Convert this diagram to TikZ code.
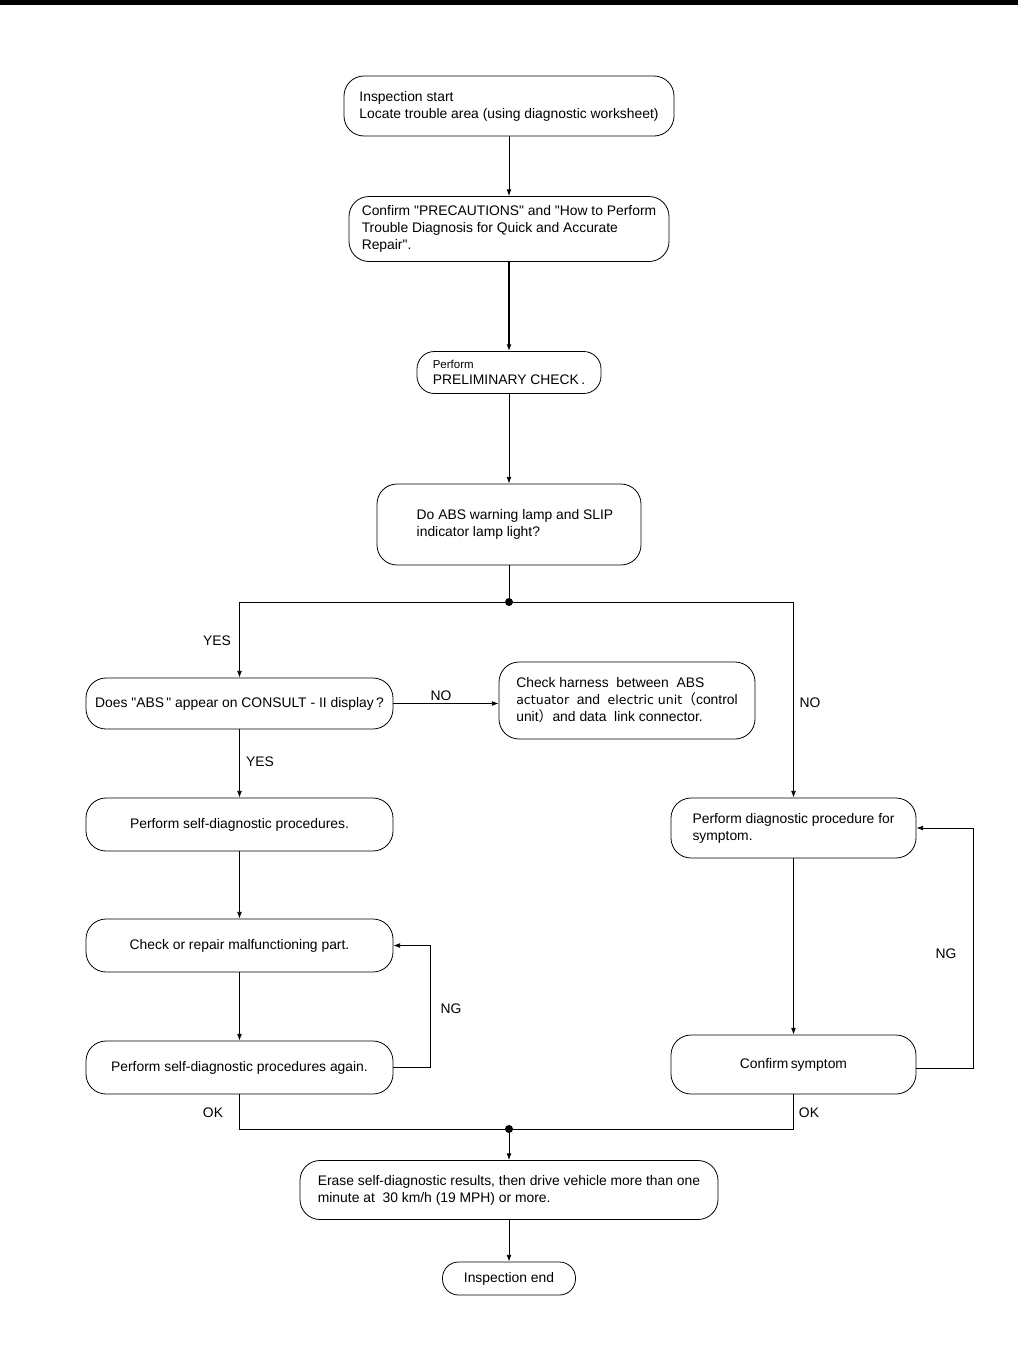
\documentclass[tikz,border=0pt]{standalone}
\usepackage{fontspec}
\setmainfont{Liberation Sans}[Ligatures=TeXOff]
\newfontfamily\cjkfont{Noto Sans CJK JP}
\newfontfamily\altfont{DejaVu Sans}
\usetikzlibrary{arrows.meta}
\newcommand\fs{\fontsize{10.4}{12.75}\selectfont}
\newcommand\qq{\symbol{34}}
\tikzset{
  box/.style={draw, line width=0.6pt, rounded corners=15pt, align=left, inner sep=0pt, font=\fs},
  conn/.style={line width=0.6pt},
  arr/.style={conn, -{Latex[length=5pt,width=3.6pt]}},
  lbl/.style={font=\fs, inner sep=0pt},
  dotmark/.style={circle, fill=black, inner sep=0pt, minimum size=6pt}
}
\begin{document}
\begin{tikzpicture}[x=0.75pt, y=-0.75pt]
\useasboundingbox (0,0) rectangle (1018,1360);
\fill (0,0) rectangle (1018,4.5);

% main column
\node[box, minimum width=247.5pt, minimum height=45pt] (start) at (509,106)
  {Inspection start\\Locate trouble area (using diagnostic worksheet)};
\node[box, minimum width=240pt, minimum height=48.75pt] (prec) at (509,229)
  {Confirm \qq PRECAUTIONS\qq{} and \qq How to Perform\\Trouble Diagnosis for Quick and Accurate\\Repair\qq.};
\node[box, minimum width=138pt, minimum height=31.5pt, rounded corners=13pt] (prelim) at (509,372.5)
  {{\fontsize{8.6}{9}\selectfont Perform}\\[-0.5pt]PRELIMINARY CHECK\,.};
\node[box, minimum width=198pt, minimum height=60.75pt] (lamp) at (509,524.5)
  {\hspace*{9pt}Do ABS warning lamp and SLIP\\\hspace*{9pt}indicator lamp light?};
\node[dotmark] (d1) at (509,602) {};

% left column
\node[box, minimum width=230.25pt, minimum height=38.25pt] (abs) at (239.5,703.5)
  {Does \qq ABS\,\qq{} appear on CONSULT - II display\,?};
\node[box, minimum width=192pt, minimum height=57.75pt] (harn) at (627,700.5)
  {Check harness \ between \ ABS\\{\altfont\fontsize{9.4}{12.75}\selectfont actuator} \ and \ {\altfont\fontsize{9.4}{12.75}\selectfont electric unit}{\cjkfont（}control\\unit{\cjkfont）}and data \ link connector.};
\node[box, minimum width=230.25pt, minimum height=39.75pt] (self) at (239.5,824.5)
  {Perform self-diagnostic procedures.};
\node[box, minimum width=230.25pt, minimum height=39.75pt] (rep) at (239.5,945.5)
  {Check or repair malfunctioning part.};
\node[box, minimum width=230.25pt, minimum height=39.75pt] (again) at (239.5,1067.5)
  {Perform self-diagnostic procedures again.};

% right column
\node[box, minimum width=183.75pt, minimum height=45pt] (diag) at (793.5,828)
  {Perform diagnostic procedure for\\symptom.};
\node[box, minimum width=183.75pt, minimum height=44.25pt] (sym) at (793.5,1064.5)
  {Confirm\,symptom};

% bottom
\node[dotmark] (d2) at (509,1129) {};
\node[box, minimum width=313.5pt, minimum height=44.25pt] (erase) at (509,1190)
  {Erase self-diagnostic results, then drive vehicle more than one\\minute at \ 30 km/h (19 MPH) or more.};
\node[box, minimum width=99.75pt, minimum height=24.75pt, rounded corners=12pt] (end) at (509,1278.5)
  {Inspection end};

% connectors
\draw[arr] (start) -- (prec);
\draw[arr, line width=0.9pt] (prec) -- (prelim);
\draw[arr] (prelim) -- (lamp);
\draw[conn] (lamp) -- (d1);
\draw[arr] (d1) -| (abs.north);
\draw[arr] (d1) -| (diag.north);
\draw[arr] (abs.east) -- (abs.east -| harn.west);
\draw[arr] (abs) -- (self);
\draw[arr] (self) -- (rep);
\draw[arr] (rep) -- (again);
\coordinate (ngl) at (430,1067.5);
\draw[arr] (again.east) -- (ngl) |- (rep.east);
\draw[arr] (diag) -- (sym);
\coordinate (ngr) at (973,1068);
\draw[arr] (sym.east |- ngr) -- (ngr) |- (diag.east);
\draw[conn] (again.south) |- (d2);
\draw[conn] (sym.south) |- (d2);
\draw[arr] (d2) -- (erase);
\draw[arr] (erase) -- (end);

% labels
\node[lbl] (y1) at (217,641) {YES};
\node[lbl] (n1) at (441,696) {NO};
\node[lbl] (y2) at (260,762) {YES};
\node[lbl] (g1) at (451,1009) {NG};
\node[lbl] (n2) at (810,703) {NO};
\node[lbl] (g2) at (946,954) {NG};
\node[lbl] (k1) at (213,1113) {OK};
\node[lbl] (k2) at (809,1113) {OK};
\end{tikzpicture}
\end{document}
